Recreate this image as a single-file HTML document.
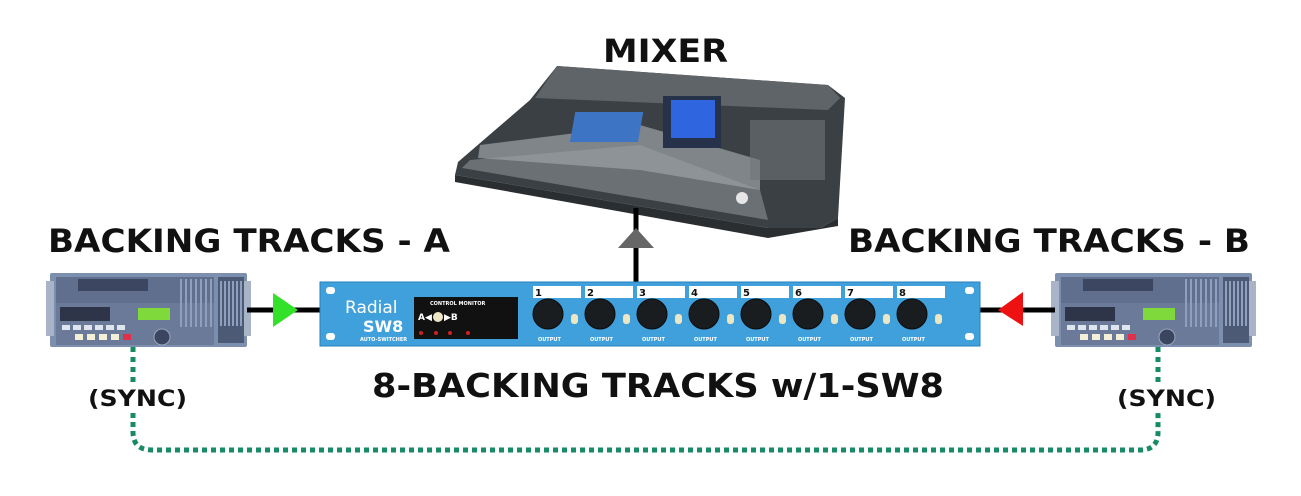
<!DOCTYPE html>
<html><head><meta charset="utf-8"><style>
html,body{margin:0;padding:0;background:#fff;}
svg{display:block}
text{font-family:"DejaVu Sans","Liberation Sans",sans-serif;font-weight:bold;fill:#111}
</style></head><body>
<svg width="1301" height="496" viewBox="0 0 1301 496" xmlns="http://www.w3.org/2000/svg">
<defs>
<g id="rec">
  <rect x="0" y="0" width="197" height="74" fill="#7d8fae" rx="2"/>
  <rect x="-4" y="8" width="8" height="55" fill="#aab4c8"/>
  <rect x="193" y="8" width="8" height="55" fill="#aab4c8"/>
  <rect x="6" y="4" width="158" height="26" fill="#5f6f8d"/>
  <rect x="28" y="6" width="70" height="12" fill="#3c4660"/>
  <rect x="6" y="30" width="158" height="42" fill="#6a7a98"/>
  <rect x="10" y="34" width="50" height="14" fill="#2e3548"/>
  <rect x="88" y="35" width="32" height="12" fill="#7fd93a"/>
  <g fill="#dfe5ee">
    <rect x="12" y="52" width="8" height="5"/><rect x="23" y="52" width="8" height="5"/><rect x="34" y="52" width="8" height="5"/><rect x="45" y="52" width="8" height="5"/><rect x="56" y="52" width="8" height="5"/><rect x="67" y="52" width="8" height="5"/>
    <rect x="25" y="61" width="8" height="6" fill="#f4f0d8"/><rect x="37" y="61" width="8" height="6" fill="#f4f0d8"/><rect x="49" y="61" width="8" height="6" fill="#f4f0d8"/><rect x="61" y="61" width="8" height="6" fill="#f4f0d8"/>
  </g>
  <rect x="73" y="61" width="8" height="6" fill="#e0304a"/>
  <circle cx="112" cy="64" r="8" fill="#3b4560" stroke="#9aa6bc"/>
  <rect x="168" y="4" width="26" height="66" fill="#4c5a76"/>
  <g fill="#8ea0bc"><rect x="170" y="8" width="2" height="45"/><rect x="174" y="8" width="2" height="45"/><rect x="178" y="8" width="2" height="45"/><rect x="182" y="8" width="2" height="45"/><rect x="186" y="8" width="2" height="45"/><rect x="190" y="8" width="2" height="45"/></g>
  <g fill="#8ea0bc"><rect x="130" y="6" width="2" height="48"/><rect x="135" y="6" width="2" height="48"/><rect x="140" y="6" width="2" height="48"/><rect x="145" y="6" width="2" height="48"/><rect x="150" y="6" width="2" height="48"/><rect x="155" y="6" width="2" height="48"/><rect x="160" y="6" width="2" height="48"/></g>
</g>
</defs>

<!-- MIXER label -->
<text x="603" y="62" font-size="32" textLength="125" lengthAdjust="spacingAndGlyphs">MIXER</text>

<!-- mixer console -->
<polygon points="557,66 828,85 845,98 838,218 820,228 768,228 455,175 458,162 530,100" fill="#3b4044"/>
<polygon points="557,66 828,85 840,98 828,110 535,98" fill="#5e6468"/>
<polygon points="470,160 640,145 760,190 768,220 462,168" fill="#6a7074"/>
<polygon points="480,145 640,125 760,160 760,190 640,170 478,158" fill="#9ca2a6" opacity="0.7"/>
<rect x="595" y="112" width="68" height="30" fill="#3e74c4" transform="skewX(-10)"/>
<rect x="663" y="96" width="58" height="52" fill="#26324a"/>
<rect x="671" y="100" width="44" height="38" fill="#2f66e0"/>
<rect x="750" y="120" width="75" height="60" fill="#6f7579" opacity="0.6"/>
<circle cx="742" cy="198" r="6" fill="#e6e6e6"/>
<polygon points="455,175 768,228 820,228 838,218 838,226 768,238 455,182" fill="#2a2e31"/>

<!-- mixer connector -->
<line x1="636" y1="208" x2="636" y2="285" stroke="#000" stroke-width="5"/>
<polygon points="636,228 618,248 654,248" fill="#666"/>

<!-- side labels -->
<text x="48" y="252" font-size="32" textLength="402" lengthAdjust="spacingAndGlyphs">BACKING TRACKS - A</text>
<text x="848" y="252" font-size="32" textLength="402" lengthAdjust="spacingAndGlyphs">BACKING TRACKS - B</text>

<!-- recorders -->
<use href="#rec" x="50" y="273"/>
<use href="#rec" x="1055" y="273"/>

<!-- connectors -->
<line x1="247" y1="310" x2="322" y2="310" stroke="#000" stroke-width="5"/>
<polygon points="273,293 298,310 273,327" fill="#33e02a"/>
<line x1="978" y1="310" x2="1055" y2="310" stroke="#000" stroke-width="5"/>
<polygon points="1023,292 998,310 1023,326" fill="#ee1111"/>

<!-- SW8 panel -->
<rect x="320" y="282" width="660" height="64" fill="#3fa0dc"/>
<rect x="320" y="282" width="660" height="64" fill="none" stroke="#2a7fb8" stroke-width="1"/>
<rect x="326" y="287" width="9" height="7" rx="3" fill="#fff"/>
<rect x="326" y="333" width="9" height="7" rx="3" fill="#fff"/>
<rect x="965" y="287" width="9" height="7" rx="3" fill="#fff"/>
<rect x="965" y="333" width="9" height="7" rx="3" fill="#fff"/>
<text x="345" y="313" font-size="17" style="font-weight:normal;fill:#fff">Radial</text>
<text x="363" y="332" font-size="16" style="fill:#fff">SW8</text>
<text x="360" y="341" font-size="5" style="fill:#fff">AUTO-SWITCHER</text>
<rect x="414" y="297" width="104" height="42" fill="#111"/>
<text x="430" y="305" font-size="5" style="fill:#fff">CONTROL MONITOR</text>
<text x="418" y="320" font-size="9" style="fill:#fff">A◀</text>
<circle cx="438" cy="317" r="5" fill="#ece6c4"/>
<text x="444" y="320" font-size="9" style="fill:#fff">▶B</text>
<g fill="#d02020"><circle cx="421" cy="333" r="2"/><circle cx="436" cy="333" r="2"/><circle cx="450" cy="333" r="2"/><circle cx="468" cy="333" r="2"/></g>
<!-- channels -->
<g fill="#fff">
  <rect x="533" y="286" width="48" height="12"/><rect x="585" y="286" width="48" height="12"/><rect x="637" y="286" width="48" height="12"/><rect x="689" y="286" width="48" height="12"/>
  <rect x="741" y="286" width="48" height="12"/><rect x="793" y="286" width="48" height="12"/><rect x="845" y="286" width="48" height="12"/><rect x="897" y="286" width="48" height="12"/>
</g>
<g font-size="10">
  <text x="535" y="296">1</text><text x="587" y="296">2</text><text x="639" y="296">3</text><text x="691" y="296">4</text>
  <text x="743" y="296">5</text><text x="795" y="296">6</text><text x="847" y="296">7</text><text x="899" y="296">8</text>
</g>
<g fill="#1a1d20" stroke="#0a0a0a">
  <circle cx="548" cy="314" r="15"/><circle cx="600" cy="314" r="15"/><circle cx="652" cy="314" r="15"/><circle cx="704" cy="314" r="15"/>
  <circle cx="756" cy="314" r="15"/><circle cx="808" cy="314" r="15"/><circle cx="860" cy="314" r="15"/><circle cx="912" cy="314" r="15"/>
</g>
<g fill="#ece6c4">
  <rect x="571" y="314" width="7" height="10" rx="3"/><rect x="623" y="314" width="7" height="10" rx="3"/><rect x="675" y="314" width="7" height="10" rx="3"/><rect x="727" y="314" width="7" height="10" rx="3"/>
  <rect x="779" y="314" width="7" height="10" rx="3"/><rect x="831" y="314" width="7" height="10" rx="3"/><rect x="883" y="314" width="7" height="10" rx="3"/><rect x="935" y="314" width="7" height="10" rx="3"/>
</g>
<g font-size="5">
  <text x="538" y="341" style="fill:#fff">OUTPUT</text><text x="590" y="341" style="fill:#fff">OUTPUT</text><text x="642" y="341" style="fill:#fff">OUTPUT</text><text x="694" y="341" style="fill:#fff">OUTPUT</text>
  <text x="746" y="341" style="fill:#fff">OUTPUT</text><text x="798" y="341" style="fill:#fff">OUTPUT</text><text x="850" y="341" style="fill:#fff">OUTPUT</text><text x="902" y="341" style="fill:#fff">OUTPUT</text>
</g>

<!-- bottom label -->
<text x="372" y="397" font-size="33" textLength="572" lengthAdjust="spacingAndGlyphs">8-BACKING TRACKS w/1-SW8</text>
<text x="88" y="406" font-size="22" textLength="99" lengthAdjust="spacingAndGlyphs">(SYNC)</text>
<text x="1117" y="406" font-size="22" textLength="99" lengthAdjust="spacingAndGlyphs">(SYNC)</text>

<!-- sync dotted line -->
<path d="M133,347 V383" stroke="#178a66" stroke-width="5" stroke-dasharray="5,5" fill="none"/>
<path d="M133,413 V432 Q133,450 152,450 H1140 Q1158,450 1158,432 V413" stroke="#178a66" stroke-width="5" stroke-dasharray="5,4" fill="none"/>
<path d="M1158,347 V383" stroke="#178a66" stroke-width="5" stroke-dasharray="5,5" fill="none"/>
</svg>
</body></html>
